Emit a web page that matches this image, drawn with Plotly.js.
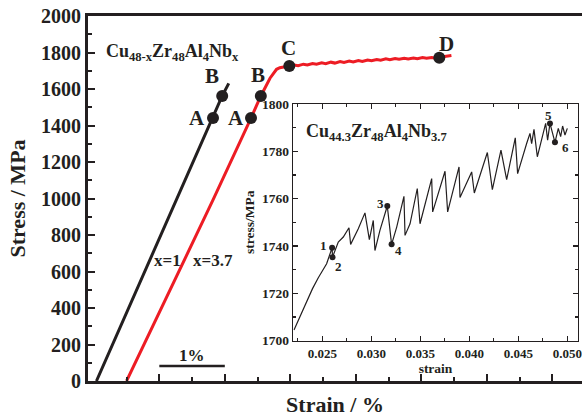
<!DOCTYPE html>
<html><head><meta charset="utf-8">
<script src="https://cdn.plot.ly/plotly-3.0.1.min.js"></script>
<style>html,body{margin:0;padding:0;background:#fff}</style>
</head><body><div id="chart" style="width:582px;height:418px"></div>
<script>
// main chart: strain (%) vs stress (MPa)
const blackStrain = [0.04, 1.00, 1.82, 1.96, 2.06];
const blackStress = [0, 777, 1441, 1562, 1631];
const redStrain = [0.50, 1.00, 1.82, 2.40, 2.55, 2.69, 2.79, 2.84, 2.92, 2.985,
  3.06, 3.12, 3.20, 3.26, 3.34, 3.40, 3.48, 3.54, 3.62, 3.68, 3.76, 3.82, 3.90, 3.96,
  4.04, 4.10, 4.18, 4.24, 4.32, 4.38, 4.46, 4.52, 4.60, 4.66, 4.74, 4.80, 4.88, 4.94,
  5.02, 5.08, 5.16, 5.22, 5.30, 5.38, 5.46];
const redStress = [0, 378, 992, 1441, 1562, 1659, 1708, 1717, 1724, 1726,
  1732, 1728, 1736, 1732, 1740, 1736, 1743, 1739, 1747, 1742, 1750, 1745, 1753, 1748,
  1756, 1751, 1759, 1755, 1762, 1758, 1765, 1761, 1767, 1763, 1769, 1765, 1770, 1766,
  1772, 1768, 1773, 1769, 1775, 1779, 1784];
const blackPtStrain = [1.82, 1.96];
const blackPtStress = [1441, 1562];
const blackPtLabels = ['A', 'B'];
const redPtStrain = [2.40, 2.55, 2.985, 5.275];
const redPtStress = [1441, 1562, 1726, 1771];
const redPtLabels = ['A', 'B', 'C', 'D'];

// inset: strain vs stress
const insetStrain = [0.02211, 0.02300, 0.02400, 0.02459, 0.02544, 0.02600, 0.02604, 0.02663, 0.02714, 0.02772,
  0.02789, 0.02867, 0.02935, 0.02980, 0.03020, 0.03037, 0.03088, 0.03163, 0.03207, 0.03259,
  0.03333, 0.03344, 0.03395, 0.03469, 0.03497, 0.03616, 0.03626, 0.03752, 0.03779, 0.03895,
  0.03905, 0.04024, 0.04051, 0.04184, 0.04235, 0.04323, 0.04381, 0.04469, 0.04493, 0.04585,
  0.04619, 0.04636, 0.04660, 0.04694, 0.04755, 0.04779, 0.04799, 0.04823, 0.04874, 0.04908,
  0.04932, 0.04952, 0.04976, 0.05000];
const insetStress = [1704.5, 1713.0, 1722.0, 1726.6, 1732.5, 1739.3, 1735.3, 1741.7, 1743.8, 1747.7,
  1740.7, 1747.3, 1754.0, 1742.7, 1750.8, 1738.1, 1746.6, 1756.9, 1740.7, 1748.0,
  1761.0, 1744.5, 1749.4, 1764.3, 1749.4, 1768.5, 1754.4, 1771.6, 1754.4, 1773.4,
  1760.5, 1771.3, 1762.4, 1779.5, 1763.8, 1780.5, 1768.1, 1785.7, 1770.6, 1783.3,
  1787.6, 1783.3, 1789.3, 1777.7, 1787.6, 1791.8, 1784.7, 1791.8, 1783.8, 1789.7,
  1786.2, 1790.7, 1786.9, 1789.7];
const insetPtStrain = [0.02600, 0.02604, 0.03163, 0.03207, 0.04823, 0.04874];
const insetPtStress = [1739.3, 1735.3, 1756.9, 1740.7, 1791.8, 1783.8];
const insetPtLabels = ['1', '2', '3', '4', '5', '6'];
const insetLabelStrain = [0.02510, 0.02663, 0.03094, 0.03273, 0.04807, 0.04977];
const insetLabelStress = [1740.3, 1731.4, 1757.9, 1738.1, 1795.3, 1781.6];

const yTicks = [0, 200, 400, 600, 800, 1000, 1200, 1400, 1600, 1800, 2000];
const xTicks = [1, 2, 3, 4, 5, 6, 7];
const insetXTicks = [0.025, 0.030, 0.035, 0.040, 0.045, 0.050];
const insetYTicks = [1700, 1720, 1740, 1760, 1780, 1800];

const FONT = 'Liberation Serif, Times New Roman, serif';
const INK = '#231f20';
const RED = '#ed1c24';

const traces = [
  {x: blackStrain, y: blackStress, mode: 'lines', line: {color: INK, width: 3}, xaxis: 'x', yaxis: 'y', hoverinfo: 'skip'},
  {x: redStrain, y: redStress, mode: 'lines', line: {color: RED, width: 3}, xaxis: 'x', yaxis: 'y', hoverinfo: 'skip'},
  {x: blackPtStrain, y: blackPtStress, mode: 'markers', marker: {color: INK, size: 12}, xaxis: 'x', yaxis: 'y'},
  {x: redPtStrain, y: redPtStress, mode: 'markers', marker: {color: INK, size: 12}, xaxis: 'x', yaxis: 'y'},
  {x: insetStrain, y: insetStress, mode: 'lines', line: {color: INK, width: 1.2}, xaxis: 'x2', yaxis: 'y2'},
  {x: insetPtStrain, y: insetPtStress, mode: 'markers', marker: {color: INK, size: 6}, xaxis: 'x2', yaxis: 'y2'}
];

const annotations = [];
const mainLabelPos = [[1.57, 1441], [1.81, 1671]];
blackPtLabels.forEach((t, i) => annotations.push({x: mainLabelPos[i][0], y: mainLabelPos[i][1], xref: 'x', yref: 'y', text: t, showarrow: false, font: {family: FONT, size: 21, color: INK, weight: 'bold'}}));
const redLabelPos = [[2.17, 1441], [2.51, 1677], [2.98, 1822], [5.38, 1847]];
redPtLabels.forEach((t, i) => annotations.push({x: redLabelPos[i][0], y: redLabelPos[i][1], xref: 'x', yref: 'y', text: t, showarrow: false, font: {family: FONT, size: 21, color: INK, weight: 'bold'}}));
insetPtLabels.forEach((t, i) => annotations.push({x: insetLabelStrain[i], y: insetLabelStress[i], xref: 'x2', yref: 'y2', text: t, showarrow: false, font: {family: FONT, size: 13, color: INK, weight: 'bold'}}));
annotations.push({x: 0.156, y: 1800, xref: 'x', yref: 'y', xanchor: 'left', text: 'Cu<sub>48-x</sub>Zr<sub>48</sub>Al<sub>4</sub>Nb<sub>x</sub>', showarrow: false, font: {family: FONT, size: 18, color: INK, weight: 'bold'}});
annotations.push({x: 0.02315, y: 1788, xref: 'x2', yref: 'y2', xanchor: 'left', text: 'Cu<sub>44.3</sub>Zr<sub>48</sub>Al<sub>4</sub>Nb<sub>3.7</sub>', showarrow: false, font: {family: FONT, size: 18, color: INK, weight: 'bold'}});
annotations.push({x: 0.89, y: 663, xref: 'x', yref: 'y', xanchor: 'left', text: 'x=1', showarrow: false, font: {family: FONT, size: 17, color: INK, weight: 'bold'}});
annotations.push({x: 1.48, y: 663, xref: 'x', yref: 'y', xanchor: 'left', text: 'x=3.7', showarrow: false, font: {family: FONT, size: 17, color: INK, weight: 'bold'}});
annotations.push({x: 1.5, y: 142, xref: 'x', yref: 'y', text: '1%', showarrow: false, font: {family: FONT, size: 17, color: INK, weight: 'bold'}});

const layout = {
  width: 582, height: 418,
  margin: {l: 88, r: 0, t: 16, b: 37},
  paper_bgcolor: '#fff', plot_bgcolor: '#fff',
  showlegend: false,
  font: {family: FONT, color: INK},
  xaxis: {
    domain: [0, 1], range: [-0.089, 7.454], showgrid: false, zeroline: false,
    showline: true, linewidth: 3, linecolor: INK, mirror: true,
    tickmode: 'array', tickvals: xTicks, ticks: 'inside', ticklen: 7, tickwidth: 2, tickcolor: INK,
    minor: {tick0: 0.5, dtick: 1, ticks: 'inside', ticklen: 4, tickwidth: 2, tickcolor: INK},
    showticklabels: false,
    title: {text: 'Strain / %', font: {family: FONT, size: 22, color: INK, weight: 'bold'}, standoff: 14}
  },
  yaxis: {
    domain: [0, 1], range: [0, 2000], showgrid: false, zeroline: false,
    showline: true, linewidth: 3, linecolor: INK,
    tickmode: 'array', tickvals: yTicks, ticks: 'inside', ticklen: 7, tickwidth: 2, tickcolor: INK,
    minor: {tick0: 100, dtick: 200, ticks: 'inside', ticklen: 4, tickwidth: 2, tickcolor: INK},
    tickfont: {family: FONT, size: 20, color: INK, weight: 'bold'},
    title: {text: 'Stress / MPa', font: {family: FONT, size: 22, color: INK, weight: 'bold'}, standoff: 10}
  },
  xaxis2: {
    domain: [0.4156, 0.9913], anchor: 'y2', range: [0.02204, 0.05106], showgrid: false, zeroline: false,
    showline: true, linewidth: 1.5, linecolor: INK, mirror: 'ticks',
    tickmode: 'array', tickvals: insetXTicks, ticktext: insetXTicks.map(v => v.toFixed(3)),
    ticks: 'inside', ticklen: 5, tickwidth: 1.2, tickcolor: INK,
    minor: {tick0: 0.0225, dtick: 0.005, ticks: 'inside', ticklen: 3, tickwidth: 1.2, tickcolor: INK},
    tickfont: {family: FONT, size: 13, color: INK, weight: 'bold'},
    title: {text: 'strain', font: {family: FONT, size: 13.5, color: INK, weight: 'bold'}, standoff: 2}
  },
  yaxis2: {
    domain: [0.1104, 0.7589], anchor: 'x2', range: [1700, 1800], showgrid: false, zeroline: false,
    showline: true, linewidth: 1.5, linecolor: INK, mirror: 'ticks',
    tickmode: 'array', tickvals: insetYTicks,
    ticks: 'inside', ticklen: 5, tickwidth: 1.2, tickcolor: INK,
    minor: {tick0: 1710, dtick: 20, ticks: 'inside', ticklen: 3, tickwidth: 1.2, tickcolor: INK},
    tickfont: {family: FONT, size: 13.5, color: INK, weight: 'bold'},
    title: {text: 'stress/MPa', font: {family: FONT, size: 13.5, color: INK, weight: 'bold'}, standoff: 4}
  },
  shapes: [
    {type: 'line', xref: 'x', yref: 'y', x0: 1, x1: 2, y0: 82, y1: 82, line: {color: INK, width: 2.5}}
  ],
  annotations: annotations
};

Plotly.newPlot('chart', traces, layout, {displayModeBar: false, staticPlot: true});
</script>
</body></html>
